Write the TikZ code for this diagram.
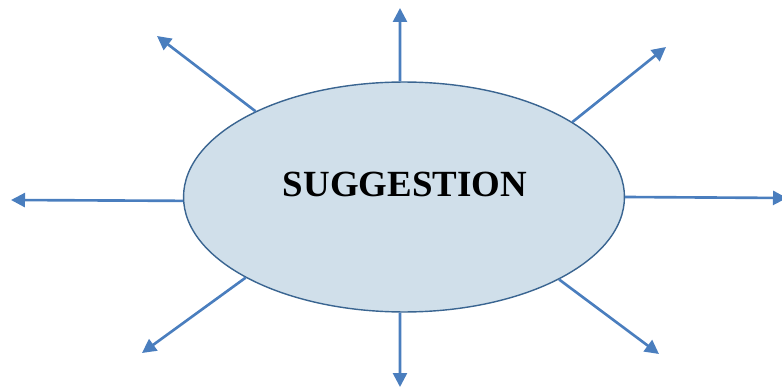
\documentclass[tikz,border=0pt]{standalone}
\usepackage{fontspec}
\setmainfont{Liberation Serif}
\usetikzlibrary{arrows.meta, shapes.geometric}
\definecolor{sfill}{HTML}{D0DFEA}
\definecolor{sedge}{HTML}{3A6591}
\definecolor{sarrow}{HTML}{4A7EBE}

\begin{document}
\begin{tikzpicture}[x=0.02cm, y=-0.02cm,
  spoke/.style={draw=sarrow, line width=1.5pt, -{Triangle[length=2.8mm, width=2.8mm]}}]
  \useasboundingbox (0,0) rectangle (782,392);
  \node[draw=sedge, fill=sfill, line width=0.8pt, ellipse, inner sep=0pt,
        minimum width=8.82cm, minimum height=4.6cm] at (404,197)(sug){};
  \node[font=\fontsize{21}{24}\selectfont\bfseries, anchor=base] at (405,196)(title){SUGGESTION};

  \coordinate (tN) at (400,8);
  \coordinate (tNW) at (157,36);
  \coordinate (tNE) at (666,47);
  \coordinate (tW) at (11,200);
  \coordinate (tE) at (787,198);
  \coordinate (tSW) at (142,353);
  \coordinate (tS) at (400,387);
  \coordinate (tSE) at (659,354);

  \draw[spoke] (sug.92)--(tN);
  \draw[spoke] (sug.150)--(tNW);
  \draw[spoke] (sug.24)--(tNE);
  \draw[spoke] (sug.181)--(tW);
  \draw[spoke] (sug.0)--(tE);
  \draw[spoke] (sug.207)--(tSW);
  \draw[spoke] (sug.268)--(tS);
  \draw[spoke] (sug.332)--(tSE);
\end{tikzpicture}
\end{document}
